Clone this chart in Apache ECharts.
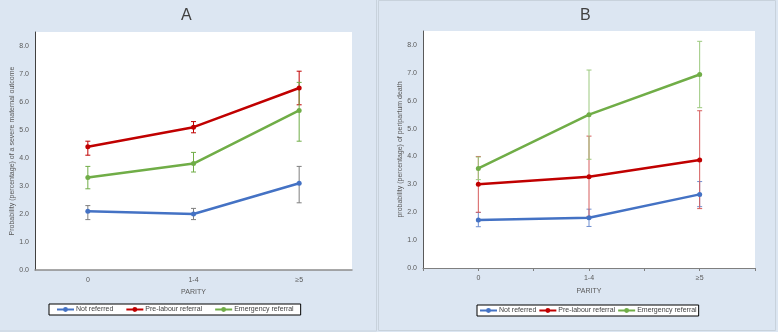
<!DOCTYPE html>
<html><head><meta charset="utf-8">
<script src="https://cdn.jsdelivr.net/npm/echarts@6/dist/echarts.min.js"></script>
<style>html,body{margin:0;padding:0;background:#dce6f2}#c{width:778px;height:332px}</style>
</head><body><div id="c"></div>
<script>
const categories = ['0', '1-4', '≥5'];
const seriesNames = ['Not referred', 'Pre-labour referral', 'Emergency referral'];
const yTicks = [0, 1, 2, 3, 4, 5, 6, 7, 8];

// Panel A: severe maternal outcome
const notReferredA = [2.1, 2.0, 3.1];
const notReferredA_low = [1.8, 1.8, 2.4];
const notReferredA_high = [2.3, 2.2, 3.7];
const preLabourA = [4.4, 5.1, 6.5];
const preLabourA_low = [4.1, 4.9, 5.9];
const preLabourA_high = [4.6, 5.3, 7.1];
const emergencyA = [3.3, 3.8, 5.7];
const emergencyA_low = [2.9, 3.5, 4.6];
const emergencyA_high = [3.7, 4.2, 6.7];

// Panel B: peripartum death
const notReferredB = [1.72, 1.8, 2.64];
const notReferredB_low = [1.48, 1.49, 2.2];
const notReferredB_high = [1.99, 2.11, 3.1];
const preLabourB = [3.0, 3.27, 3.87];
const preLabourB_low = [2.0, 1.85, 2.13];
const preLabourB_high = [4.0, 4.73, 5.64];
const emergencyB = [3.57, 5.5, 6.94];
const emergencyB_low = [3.17, 3.9, 5.75];
const emergencyB_high = [3.98, 7.1, 8.13];

const colors = ['#4472c4', '#c00000', '#70ad47'];
const FONT = 'Liberation Sans';
const TXT = '#595959';

function errSeries(name, xi, low, high, color) {
  return {
    type: 'custom', name: name, xAxisIndex: xi, yAxisIndex: xi, z: 3,
    data: low.map((l, i) => [i, l, high[i]]),
    encode: { x: 0, y: [1, 2] },
    renderItem: function (params, api) {
      const a = api.coord([api.value(0), api.value(1)]);
      const b = api.coord([api.value(0), api.value(2)]);
      const w = 2.5;
      const st = { stroke: color, lineWidth: 1 };
      return { type: 'group', children: [
        { type: 'line', shape: { x1: a[0], y1: a[1], x2: b[0], y2: b[1] }, style: st },
        { type: 'line', shape: { x1: a[0] - w, y1: a[1], x2: a[0] + w, y2: a[1] }, style: st },
        { type: 'line', shape: { x1: b[0] - w, y1: b[1], x2: b[0] + w, y2: b[1] }, style: st }
      ]};
    },
    silent: true, tooltip: { show: false }
  };
}
function lineSeries(name, xi, data, color) {
  return {
    type: 'line', name: name, xAxisIndex: xi, yAxisIndex: xi, data: data, z: 4,
    symbol: 'circle', symbolSize: 5,
    lineStyle: { color: color, width: 2.5 }, itemStyle: { color: color }
  };
}
function yAx(gi, name, lineColor) {
  return {
    type: 'value', gridIndex: gi, min: 0, max: 8.5, interval: 1,
    splitLine: { show: false },
    axisLine: { show: true, lineStyle: { color: lineColor, width: 1 } },
    axisTick: { show: false },
    axisLabel: { showMaxLabel: false, fontSize: 7, color: TXT, fontFamily: FONT, margin: 6,
      formatter: v => yTicks.indexOf(v) >= 0 ? v.toFixed(1) : '' },
    name: name, nameLocation: 'middle', nameGap: 17,
    nameTextStyle: { fontSize: 7, color: TXT, fontFamily: FONT }
  };
}
function legendAt(left, top, gap, pad) {
  return {
    left: left, top: top, data: seriesNames, orient: 'horizontal',
    backgroundColor: '#fff', borderColor: '#000', borderWidth: 1, borderRadius: 0,
    padding: [2, pad], itemWidth: 17, itemHeight: 6, itemGap: gap,
    textStyle: { fontSize: 7, color: '#404040', fontFamily: FONT, padding: [0, 0, 0, -3] }
  };
}

const option = {
  backgroundColor: '#dce6f2',
  animation: false,
  color: colors,
  title: [
    { text: 'A', left: 176, top: 3, textStyle: { fontSize: 16, fontWeight: 'normal', color: '#404040', fontFamily: FONT } },
    { text: 'B', left: 575, top: 3, textStyle: { fontSize: 16, fontWeight: 'normal', color: '#404040', fontFamily: FONT } }
  ],
  graphic: [
    { type: 'rect', shape: { x: -2, y: -2, width: 378.5, height: 333 }, style: { fill: 'none', stroke: '#c8d2dc', lineWidth: 1 }, z: -1 },
    { type: 'rect', shape: { x: 378.5, y: 0.5, width: 397, height: 330 }, style: { fill: 'none', stroke: '#c8d2dc', lineWidth: 1 }, z: -1 }
  ],
  legend: [ legendAt(49, 304, 12, 7), legendAt(477, 305, 2, 2) ],
  grid: [
    { left: 35, right: 426, top: 32, bottom: 62, show: true, backgroundColor: '#fff', borderWidth: 0 },
    { left: 423, right: 23, top: 31, bottom: 64, show: true, backgroundColor: '#fff', borderWidth: 0 }
  ],
  xAxis: [
    { type: 'category', gridIndex: 0, data: categories, boundaryGap: true,
      axisLine: { lineStyle: { color: '#8c8c8c', width: 1.5 } }, axisTick: { show: false },
      axisLabel: { fontSize: 7, color: TXT, fontFamily: FONT, margin: 7 },
      name: 'PARITY', nameLocation: 'middle', nameGap: 18,
      nameTextStyle: { fontSize: 7, color: TXT, fontFamily: FONT } },
    { type: 'category', gridIndex: 1, data: categories, boundaryGap: true,
      axisLine: { lineStyle: { color: '#7f7f7f', width: 1 } },
      axisTick: { show: true, length: 3, lineStyle: { color: '#7f7f7f' } },
      axisLabel: { fontSize: 7, color: TXT, fontFamily: FONT, margin: 7 },
      name: 'PARITY', nameLocation: 'middle', nameGap: 20,
      nameTextStyle: { fontSize: 7, color: TXT, fontFamily: FONT } },
    { type: 'category', gridIndex: 1, data: categories, boundaryGap: true, position: 'bottom',
      axisLine: { show: false }, axisLabel: { show: false },
      axisTick: { show: true, alignWithLabel: true, length: 3, lineStyle: { color: '#7f7f7f' } } }
  ],
  yAxis: [
    yAx(0, 'Probability (percentage) of a severe maternal outcome', '#404040'),
    yAx(1, 'probability (percentage) of peripartum death', '#595959')
  ],
  series: [
    lineSeries(seriesNames[0], 0, notReferredA, colors[0]),
    lineSeries(seriesNames[1], 0, preLabourA, colors[1]),
    lineSeries(seriesNames[2], 0, emergencyA, colors[2]),
    lineSeries(seriesNames[0], 1, notReferredB, colors[0]),
    lineSeries(seriesNames[1], 1, preLabourB, colors[1]),
    lineSeries(seriesNames[2], 1, emergencyB, colors[2]),
    errSeries(seriesNames[0], 0, notReferredA_low, notReferredA_high, '#7f7f7f'),
    errSeries(seriesNames[1], 0, preLabourA_low, preLabourA_high, '#c00000'),
    errSeries(seriesNames[2], 0, emergencyA_low, emergencyA_high, '#70ad47'),
    errSeries(seriesNames[0], 1, notReferredB_low, notReferredB_high, '#6f8fd0'),
    errSeries(seriesNames[1], 1, preLabourB_low, preLabourB_high, '#d65c5c'),
    errSeries(seriesNames[2], 1, emergencyB_low, emergencyB_high, '#9cc97e')
  ]
};
const chart = echarts.init(document.getElementById('c'), null, { renderer: 'canvas' });
chart.setOption(option);
</script></body></html>
